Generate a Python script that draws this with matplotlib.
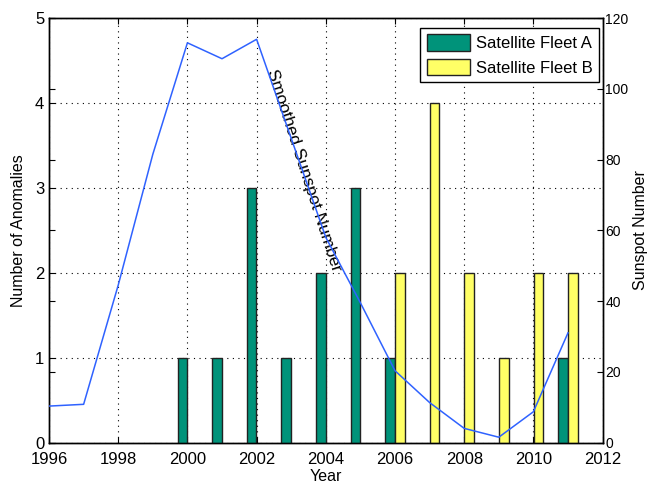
"""Satellite anomalies per year against the smoothed sunspot number."""
import numpy as np
import matplotlib
matplotlib.use('Agg')
import matplotlib.pyplot as plt

plt.rcParams['font.family'] = ['Liberation Sans', 'DejaVu Sans']
plt.rcParams['font.size'] = 11

# anomaly counts per year
years = np.arange(1996, 2012)
fleet_a = [0, 0, 0, 0, 1, 1, 3, 1, 2, 3, 1, 0, 0, 0, 0, 1]
fleet_b = [0, 0, 0, 0, 0, 0, 0, 0, 0, 0, 2, 4, 2, 1, 2, 2]

# smoothed sunspot number, yearly
ssn_years = np.arange(1996, 2012)
ssn = [10.3, 10.8, 44.5, 81.5, 113, 108.5, 114, 86, 58, 39.5, 20.3, 11.3, 4, 1.5, 8.7, 31]

bar_w = 0.28
offset = 0.145

fig = plt.figure(figsize=(6.52, 4.84), dpi=100)
ax = fig.add_axes([0.0752, 0.0857, 0.849, 0.877])

ya = np.array(fleet_a, dtype=float)
yb = np.array(fleet_b, dtype=float)
ma = ya > 0
mb = yb > 0
ax.bar(years[ma] - offset, ya[ma], width=bar_w, color='#00937a',
       edgecolor='#222222', linewidth=1.0, label='Satellite Fleet A', zorder=3)
ax.bar(years[mb] + offset, yb[mb], width=bar_w, color='#ffff66',
       edgecolor='#222222', linewidth=1.0, label='Satellite Fleet B', zorder=3)

ax.set_xlim(1996, 2012)
ax.set_ylim(0, 5)
ax.set_xticks(np.arange(1996, 2013, 2))
ax.set_yticks(np.arange(0, 6))
ax.grid(True, color='black', linestyle=(0, (1, 4)), linewidth=0.8)
ax.set_axisbelow(True)
ax.tick_params(direction='in', length=4, right=True, top=True, labelsize=12)
ax.tick_params(axis='x', pad=7)
ax.set_xlabel('Year', fontsize=11.5, labelpad=1)
ax.set_ylabel('Number of Anomalies', fontsize=11.5, labelpad=6)

leg = ax.legend(loc='upper right', fancybox=False, framealpha=1,
                edgecolor='black', handlelength=2.6, handleheight=1.15,
                borderpad=0.4, labelspacing=0.45, handletextpad=0.35,
                borderaxespad=0.2, fontsize=12)
leg.get_frame().set_linewidth(1.0)
leg.set_zorder(10)
# keep the legend a few pixels under the top spine
leg.set_bbox_to_anchor((1.0, 0.985), transform=ax.transAxes)

ax2 = ax.twinx()
ax2.plot(ssn_years, ssn, color='#2f62ff', linewidth=1.1, zorder=4)
ax2.set_ylim(0, 120)
ax2.set_yticks(np.arange(0, 121, 20))
ax2.tick_params(direction='in', length=4, left=True, labelsize=10, pad=2)
ax2.set_ylabel('Sunspot Number', fontsize=11.5, labelpad=3)
ax2.set_xlim(1996, 2012)

ax.text(2003.36, 3.21, 'Smoothed Sunspot Number', rotation=-72,
        ha='center', va='center', fontsize=12.3, zorder=5,
        rotation_mode='anchor')

for a in (ax, ax2):
    for s in a.spines.values():
        s.set_linewidth(1.0)

fig.savefig('out.png', dpi=100)
